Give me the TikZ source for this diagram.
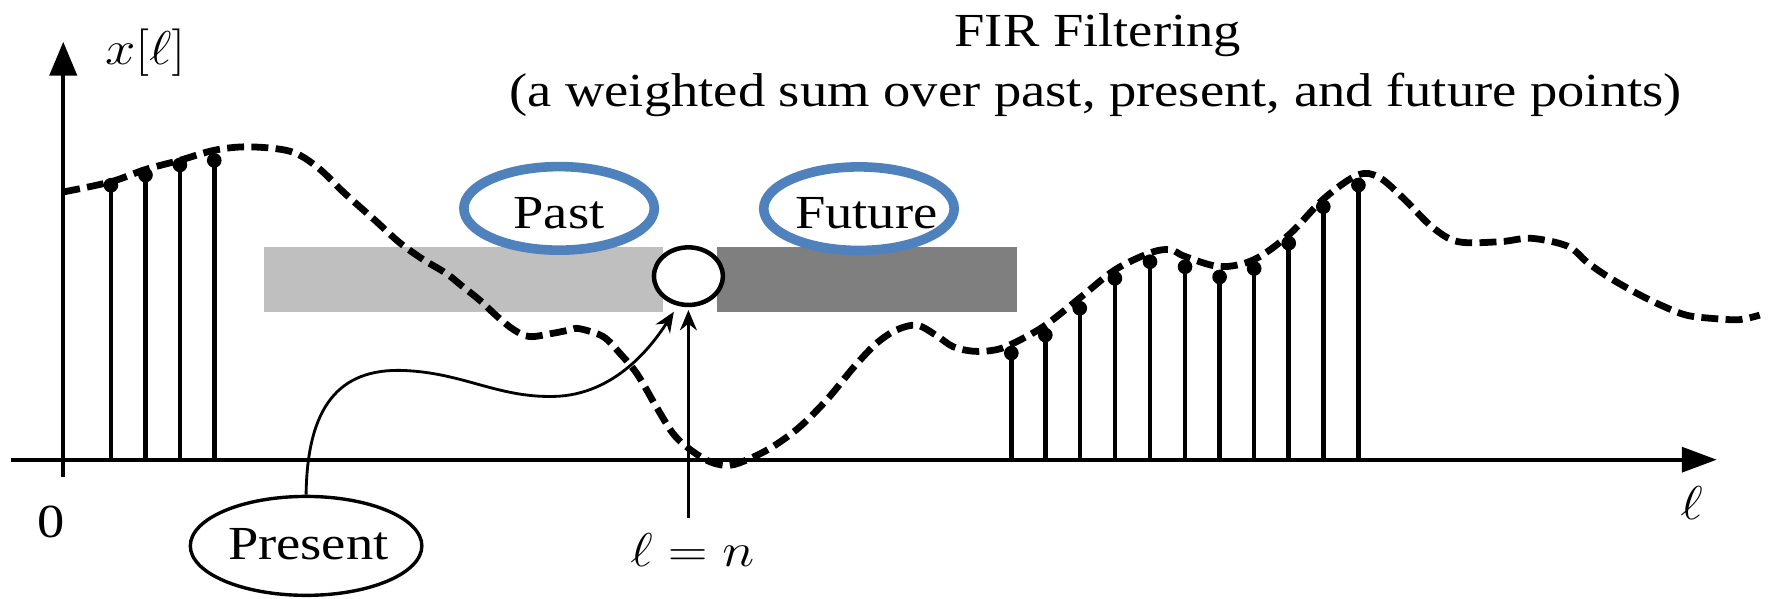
\RequirePackage{fix-cm}
\documentclass[tikz,border=0pt]{standalone}
\usepackage{fontspec}
\setmainfont{Liberation Serif}
\usepackage{graphicx}
\usetikzlibrary{arrows.meta,shapes.geometric}
\definecolor{ringblue}{RGB}{79,129,189}
\definecolor{pastgray}{RGB}{191,191,191}
\definecolor{futgray}{RGB}{127,127,127}
\newcommand\wx[1]{\scalebox{1.15}[1]{#1}}
\begin{document}
\begin{tikzpicture}[x=1pt,y=-1pt,
  txt/.style={font=\fontsize{42}{48}\selectfont, inner sep=0pt},
  axisline/.style={line width=3.5pt},
  axisarrow/.style={-{Triangle[length=31pt,width=22pt]}},
  stem/.style={line width=4pt},
  signal/.style={line width=6pt, dash pattern=on 15pt off 6.5pt},
  ring/.style={draw=ringblue, line width=8.5pt, ellipse, minimum width=168.6pt, minimum height=74pt, inner sep=0pt},
  bar/.style={rectangle, inner sep=0pt, minimum height=57.5pt},
  pointer/.style={line width=2.5pt, -{Stealth[length=18pt,width=15pt]}},
]
\useasboundingbox (0,0) rectangle (1568,530);

% windows
\node[bar, fill=pastgray, minimum width=353.5pt] (pastbar) at (410.25,247.25) {};
\node[bar, fill=futgray, minimum width=266pt] (futbar) at (767.5,247.25) {};

% continuous signal
\draw[signal] plot[smooth, tension=0.55] coordinates {
 (56,170) (98,161) (129,150) (159,142) (190,133) (220,130) (257,134) (281,148)
 (305,171) (332,195) (354,215) (375,230) (395,242) (410,254) (425,266) (440,280)
 (455,292) (469,298) (490,295) (505,292) (513,291) (534,298) (549,313) (564,331)
 (581,360) (596,384) (611,398) (629,409) (646,412) (664,406) (685,395) (708,378)
 (732,354) (756,325) (776,304) (794,292) (812,288) (829,297) (844,307) (862,311)
 (880,310) (895,305) (924,289) (957,263) (987,239) (1018,224) (1036,221) (1049,227)
 (1080,236) (1110,230) (1141,208) (1172,176) (1202,155) (1221,157) (1244,177) (1268,201)
 (1291,214) (1328,214) (1356,211) (1388,218) (1405,232) (1422,244) (1446,258) (1470,270)
 (1493,279) (1517,282) (1540,283) (1558,279)};

% samples
\foreach \sx/\sy in {98.2/164,128.8/155,159.3/146,189.7/142,
  895.4/312.6,925.5/296.6,956/272.9,987.1/246.4,1018.2/231.7,1049.2/236.2,
  1079.8/245.2,1110.4/237.7,1141/215.3,1171.6/183,1202.7/163.8}{
  \draw[stem] (\sx,407) -- (\sx,\sy);
  \fill (\sx,\sy) circle (6.5pt);
}

% axes
\coordinate (xs) at (10,407);
\coordinate (xe) at (1520,407);
\coordinate (ys) at (56,422);
\coordinate (ye) at (56,37);
\draw[axisline, axisarrow] (xs) -- (xe);
\draw[axisline, -{Triangle[length=30pt,width=24pt]}] (ys) -- (ye);

% present sample
\node[draw, ellipse, fill=white, line width=4pt, minimum width=61pt, minimum height=51pt, inner sep=0pt] (cur) at (609.5,244.5) {};

% rings and labels
\node[ring] (pastring) at (495,184.5) {};
\node[txt, anchor=base] (pasttxt) at (495,202) {\wx{Past}};
\node[ring] (futring) at (760.5,184.75) {};
\node[txt, anchor=base] (futtxt) at (767,202) {\wx{Future}};

\node[draw, ellipse, line width=3pt, minimum width=205pt, minimum height=87.6pt, inner sep=0pt] (present) at (271,483.3) {};
\node[txt, anchor=base] (prestxt) at (273,495.8) {\wx{Present}};

\node[txt] (ylab) at (128.5,47) {\wx{$x[\ell]$}};
\node[txt] (zero) at (45,462) {\wx{0}};
\node[txt] (ellab) at (1497.7,445) {\wx{$\ell$}};
\node[txt] (nlab) at (613,487) {\wx{$\ell = n$}};
\node[txt, anchor=base] (title1) at (972,41.3) {\wx{FIR Filtering}};
\node[txt, anchor=base] (title2) at (970,94.4) {\wx{(a weighted sum over past, present, and future points)}};

% pointers
\coordinate (nfoot) at (609.5,459);
\draw[pointer] (nfoot) -- ([yshift=-2.5pt]cur.south);
\draw[pointer] (present.north) .. controls (272,360) and (300,326) .. (357,328)
  .. controls (410,330) and (440,352) .. (490,351)
  .. controls (545,350) and (578,305) .. ([shift={(-1,6)}]cur.245);
\end{tikzpicture}
\end{document}
